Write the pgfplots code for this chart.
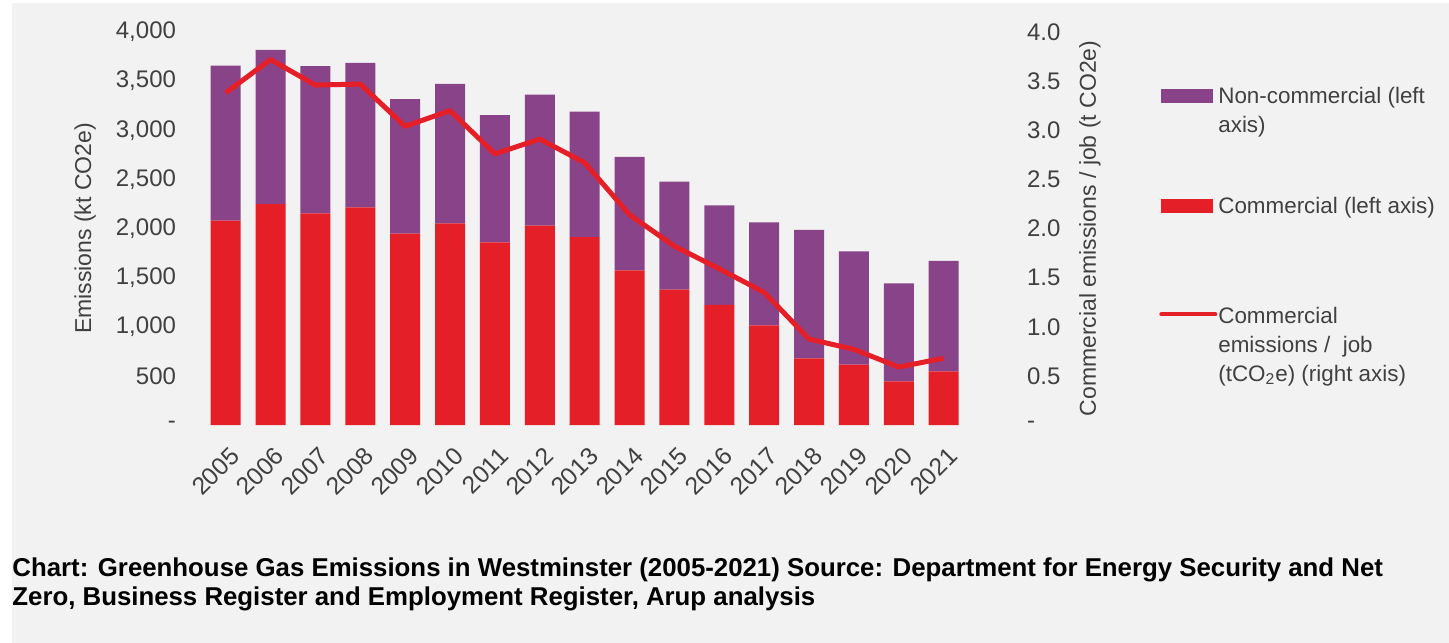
\documentclass[border=0pt]{standalone}
\usepackage{fontspec}
\setmainfont{Liberation Sans}
\usepackage{pgfplots}
\usepackage{pgfplotstable}
\pgfplotsset{compat=1.18}

\definecolor{bg}{HTML}{F2F2F2}
\definecolor{comred}{HTML}{E41F28}
\definecolor{noncom}{HTML}{894489}
\definecolor{txt}{HTML}{404040}

% x = position, comm/noncomm in kt CO2e, perjob in t CO2e
\pgfplotstableread{
x year comm noncomm perjob
0  2005 2080 1578 3.38
1  2006 2247 1571 3.72
2  2007 2155 1497 3.46
3  2008 2216 1469 3.47
4  2009 1948 1368 3.04
5  2010 2053 1418 3.20
6  2011 1860 1293 2.76
7  2012 2029 1334 2.91
8  2013 1911 1279 2.67
9  2014 1575 1153 2.14
10 2015 1377 1100 1.82
11 2016 1222 1014 1.59
12 2017 1015 1048 1.35
13 2018 679  1306 0.875
14 2019 614  1154 0.77
15 2020 445  997  0.59
16 2021 547  1123 0.68
}\emissions

\newcommand{\ticksize}{\fontsize{12bp}{14bp}\selectfont}
\newcommand{\yearsize}{\fontsize{12.3bp}{14.5bp}\selectfont}
\newcommand{\labsize}{\fontsize{11.5bp}{14.5bp}\selectfont}
\newcommand{\legsize}{\fontsize{11.2bp}{14.5bp}\selectfont}

\pgfplotsset{
  base/.style={
    at={(91.5bp,-212.5bp)}, anchor=south west,
    scale only axis, width=418.5bp, height=196.5bp,
    xmin=-0.95, xmax=17.7,
    axis line style={draw=none},
    major tick length=0pt,
    every tick label/.append style={text=txt},
    yticklabel style={font=\ticksize},
  },
}

\begin{document}
\begin{tikzpicture}
\useasboundingbox (0,0) rectangle (724.5bp,-321.5bp);
\fill[bg] (6bp,-1.5bp) rectangle (724.5bp,-321.5bp);

\begin{axis}[
  base,
  ymin=0, ymax=4000,
  axis x line*=bottom, axis y line*=left,
  xtick={0,...,16},
  xticklabels={2005,2006,2007,2008,2009,2010,2011,2012,2013,2014,2015,2016,2017,2018,2019,2020,2021},
  xticklabel style={xshift=1.5bp, yshift=-5.5bp, rotate=45, anchor=north east, font=\yearsize},
  ytick={0,500,...,4000},
  yticklabels={-,500,{1,000},{1,500},{2,000},{2,500},{3,000},{3,500},{4,000}},
  ylabel={Emissions (kt CO2e)},
  ylabel style={at={(axis description cs:-0.117,0.5)}, anchor=center, font=\labsize, text=txt},
  ybar stacked, bar width=15bp,
]
\addplot[fill=comred, draw=none] table[x=x, y=comm]{\emissions};
\addplot[fill=noncom, draw=none] table[x=x, y=noncomm]{\emissions};
\end{axis}

\begin{axis}[
  base,
  ymin=0, ymax=4,
  axis x line=none, axis y line*=right,
  ytick={0,0.5,1,1.5,2,2.5,3,3.5,4},
  yticklabels={-,0.5,1.0,1.5,2.0,2.5,3.0,3.5,4.0},
  ylabel={Commercial emissions / job (t CO2e)},
  ylabel style={at={(axis description cs:1.0836,0.5)}, anchor=center, font=\labsize, text=txt},
  legend cell align=left,
  legend style={at={(axis description cs:1.166,0.888)}, anchor=north west,
    draw=none, fill=none, font=\legsize, text=txt,
    row sep=0pt, column sep=0.5bp, inner sep=0pt, nodes={inner sep=0pt}},
]
\addlegendimage{legend image code/.code={
  \path[draw=none, fill=none] (0bp,-45bp) rectangle (26bp,10bp);
  \fill[noncom, draw=none] (0bp,-3.5bp) rectangle (26bp,3.5bp);}}
\addlegendentry{\parbox[t]{115bp}{Non-commercial (left\\axis)}}
\addlegendimage{legend image code/.code={
  \path[draw=none, fill=none] (0bp,-45bp) rectangle (26bp,10bp);
  \fill[comred, draw=none] (0bp,-3.5bp) rectangle (26bp,3.5bp);}}
\addlegendentry{\parbox[t]{115bp}{Commercial (left axis)}}
\addplot[comred, line width=2.5bp, line join=round, mark=none,
  legend image code/.code={
    \path[draw=none, fill=none] (0bp,-45bp) rectangle (26bp,10bp);
    \draw[comred, line width=2bp, line cap=round] (0bp,1bp) -- (27bp,1bp);}]
  table[x=x, y=perjob]{\emissions};
\addlegendentry{\parbox[t]{115bp}{Commercial\\emissions /\ \ job\\(tCO\textsubscript{2}e) (right axis)}}
\end{axis}

\node[anchor=base west, inner sep=0pt, font=\bfseries\fontsize{12.9bp}{15bp}\selectfont] at (6bp,-288.3bp)
  {Chart: Greenhouse Gas Emissions in Westminster (2005-2021) Source: Department for Energy Security and Net};
\node[anchor=base west, inner sep=0pt, font=\bfseries\fontsize{12.9bp}{15bp}\selectfont] at (6bp,-302.5bp)
  {Zero, Business Register and Employment Register, Arup analysis};
\end{tikzpicture}
\end{document}
